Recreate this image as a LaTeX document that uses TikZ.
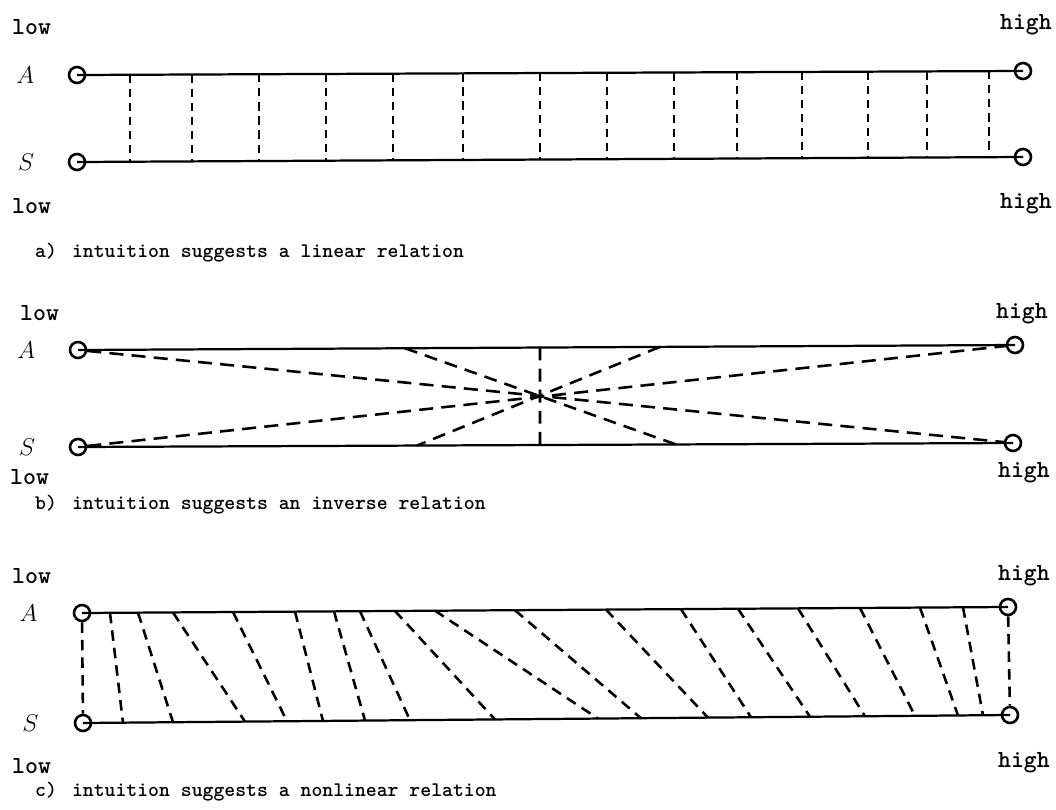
\documentclass[tikz,border=0pt]{standalone}
\usepackage{amsmath}
\usepackage{tikz}
\usetikzlibrary{positioning,calc}

\begin{document}
\begin{tikzpicture}[
    x=0.03cm, y=-0.03cm,
    node distance=1cm,
    knob/.style={circle, draw, line width=2.2pt, minimum size=0.48cm, inner sep=0pt},
    rail/.style={line width=1.9pt},
    tie/.style={line width=2.2pt, dash pattern=on 7pt off 5pt},
    var/.style={inner sep=0pt, font=\fontsize{20.74}{24}\selectfont},
    lbl/.style={inner sep=0pt, font=\ttfamily\bfseries\fontsize{21}{26}\selectfont},
    capt/.style={inner sep=0pt, anchor=base west, font=\ttfamily\bfseries\fontsize{17.7}{22}\selectfont}
  ]
  \useasboundingbox (0,0) rectangle (1056,810);

  % a) linear
  \node[knob] (aAl) at (77,75) {};
  \node[knob] (aAh) at (1023,71) {};
  \node[knob] (aSl) at (77,162) {};
  \node[knob] (aSh) at (1023,157) {};
  \draw[rail] (aAl.center) -- (aAh.center);
  \draw[rail] (aSl.center) -- (aSh.center);
  \node[var, left=1.0cm of aAl] (aA) {$A$};
  \node[var, left=1.0cm of aSl] (aS) {$S$};
  \node[lbl, anchor=base west] (aLo1) at (12,34) {low};
  \node[lbl, anchor=base west] (aLo2) at (12,213) {low};
  \node[lbl, anchor=base east] (aHi1) at (1052,29) {high};
  \node[lbl, anchor=base east] (aHi2) at (1052,208) {high};
  \foreach \x in {130,192,259,326,393,463,540,607,674,737,802,868,927,989}
    \draw[tie] ($(aAl)!{(\x-77)/946}!(aAh)$) -- ($(aSl)!{(\x-77)/946}!(aSh)$);
  \node[capt] (aCap) at (35,257) {a)\hspace{0.45cm}intuition suggests a linear relation};

  % b) inverse
  \node[knob] (bAl) at (78,350) {};
  \node[knob] (bAh) at (1015,345) {};
  \node[knob] (bSl) at (78,447) {};
  \node[knob] (bSh) at (1013,443) {};
  \draw[rail] (bAl.center) -- (bAh.center);
  \draw[rail] (bSl.center) -- (bSh.center);
  \node[var, left=1.0cm of bAl] (bA) {$A$};
  \node[var, left=1.0cm of bSl] (bS) {$S$};
  \node[lbl, anchor=base west] (bLo1) at (20,320) {low};
  \node[lbl, anchor=base west] (bLo2) at (10,484) {low};
  \node[lbl, anchor=base east] (bHi1) at (1048,318) {high};
  \node[lbl, anchor=base east] (bHi2) at (1050,477) {high};
  \draw[tie, dash pattern=on 12pt off 7pt] (bAl) -- (bSh);
  \draw[tie, dash pattern=on 12pt off 7pt] (bSl) -- (bAh);
  \foreach \p/\q in {405/676, 660/417, 540/540}
    \draw[tie, dash pattern=on 11pt off 7pt] ($(bAl)!{(\p-78)/937}!(bAh)$) -- ($(bSl)!{(\q-78)/935}!(bSh)$);
  \node[capt] (bCap) at (35,509) {b)\hspace{0.45cm}intuition suggests an inverse relation};

  % c) nonlinear
  \node[knob] (cAl) at (82,613) {};
  \node[knob] (cAh) at (1008,607) {};
  \node[knob] (cSl) at (83,723) {};
  \node[knob] (cSh) at (1010,715) {};
  \draw[rail] (cAl.center) -- (cAh.center);
  \draw[rail] (cSl.center) -- (cSh.center);
  \node[var, left=1.05cm of cAl] (cA) {$A$};
  \node[var, left=1.05cm of cSl] (cS) {$S$};
  \node[lbl, anchor=base west] (cLo1) at (12,583) {low};
  \node[lbl, anchor=base west] (cLo2) at (12,773) {low};
  \node[lbl, anchor=base east] (cHi1) at (1050,580) {high};
  \node[lbl, anchor=base east] (cHi2) at (1050,767) {high};
  \draw[tie, dash pattern=on 9pt off 6pt] (cAl) -- (cSl);
  \draw[tie, dash pattern=on 9pt off 6pt] (cAh) -- (cSh);
  \foreach \p/\q in {110/123, 138/173, 173/245, 233/287, 295/323, 334/365,
                     360/410, 395/495, 435/598, 515/641, 606/708, 681/751,
                     738/810, 798/865, 860/915, 920/958, 963/983}
    \draw[tie, dash pattern=on 9pt off 6pt] ($(cAl)!{(\p-82)/926}!(cAh)$) -- ($(cSl)!{(\q-83)/927}!(cSh)$);
  \node[capt] (cCap) at (35,796) {c)\hspace{0.45cm}intuition suggests a nonlinear relation};
\end{tikzpicture}
\end{document}
